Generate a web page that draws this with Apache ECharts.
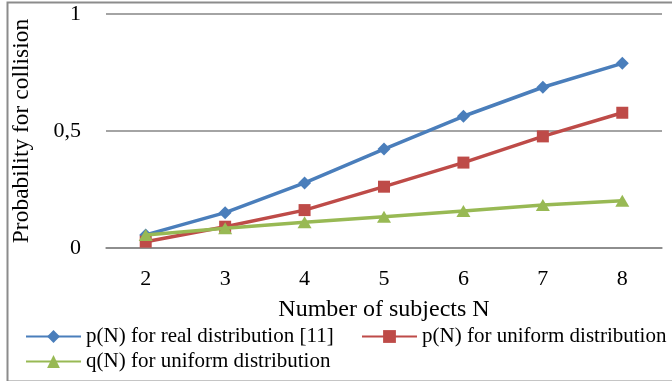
<!DOCTYPE html>
<html>
<head>
<meta charset="utf-8">
<script src="https://cdn.jsdelivr.net/npm/echarts@6/dist/echarts.min.js"></script>
<style>
  html, body { margin: 0; padding: 0; background: #fff; }
  #chart { width: 672px; height: 381px; }
</style>
</head>
<body>
<div id="chart"></div>
<script>
// Number of subjects N
const categories = ['2', '3', '4', '5', '6', '7', '8'];
// Collision probabilities
const pReal = [0.056, 0.151, 0.278, 0.423, 0.563, 0.687, 0.789];
const pUniform = [0.027, 0.091, 0.162, 0.262, 0.365, 0.477, 0.578];
const qUniform = [0.056, 0.084, 0.110, 0.134, 0.158, 0.184, 0.202];
const seriesNames = [
  'p(N) for real distribution [11]',
  'p(N) for uniform distribution',
  'q(N) for uniform distribution'
];
const yTicks = [0, 0.5, 1];

const serif = '"Liberation Serif", "Times New Roman", serif';
const chart = echarts.init(document.getElementById('chart'));

const legendText = { fontFamily: serif, fontSize: 21, color: '#000' };
const legendBase = {
  itemWidth: 55, itemHeight: 16, itemGap: 20,
  textStyle: legendText, padding: 0
};

chart.setOption({
  animation: false,
  backgroundColor: '#fff',
  textStyle: { fontFamily: serif },
  graphic: [{
    type: 'rect', left: 5, top: 0,
    shape: { width: 700, height: 379 },
    style: { fill: 'none', stroke: '#8c8c8c', lineWidth: 2 },
    silent: true
  }],
  grid: {
    left: 106, right: 10, top: 14, bottom: 133,
    containLabel: false, outerBoundsMode: 'none'
  },
  legend: [
    Object.assign({}, legendBase, { data: [seriesNames[0]], left: 25, top: 326 }),
    Object.assign({}, legendBase, { data: [seriesNames[1]], left: 361, top: 326 }),
    Object.assign({}, legendBase, { data: [seriesNames[2]], left: 25, top: 351 })
  ],
  xAxis: {
    type: 'category',
    data: categories,
    boundaryGap: true,
    name: 'Number of subjects N',
    nameLocation: 'middle',
    nameGap: 50,
    nameTextStyle: { fontFamily: serif, fontSize: 24, color: '#000' },
    axisLine: { show: true, lineStyle: { color: '#868686', width: 1.5 } },
    axisTick: { show: false },
    axisLabel: { fontFamily: serif, fontSize: 22, color: '#000', margin: 20 }
  },
  yAxis: {
    type: 'value',
    min: yTicks[0], max: yTicks[yTicks.length - 1], interval: 0.5,
    name: 'Probability for collision',
    nameLocation: 'middle',
    nameGap: 72,
    nameTextStyle: { fontFamily: serif, fontSize: 23.5, color: '#000' },
    axisLine: { show: false },
    axisTick: { show: false },
    splitLine: { lineStyle: { color: '#868686', width: 1.5 } },
    axisLabel: {
      fontFamily: serif, fontSize: 22, color: '#000', margin: 25,
      formatter: v => String(v).replace('.', ',')
    }
  },
  series: [
    {
      name: seriesNames[0], type: 'line', data: pReal,
      color: '#4a7ebb', symbol: 'diamond', symbolSize: 13,
      lineStyle: { width: 3.5 }, z: 3
    },
    {
      name: seriesNames[1], type: 'line', data: pUniform,
      color: '#be4b48', symbol: 'rect', symbolSize: 12,
      lineStyle: { width: 3.5 }, z: 4
    },
    {
      name: seriesNames[2], type: 'line', data: qUniform,
      color: '#98b954', symbol: 'triangle', symbolSize: [14, 12],
      lineStyle: { width: 3.5 }, z: 5
    }
  ]
});
</script>
</body>
</html>
